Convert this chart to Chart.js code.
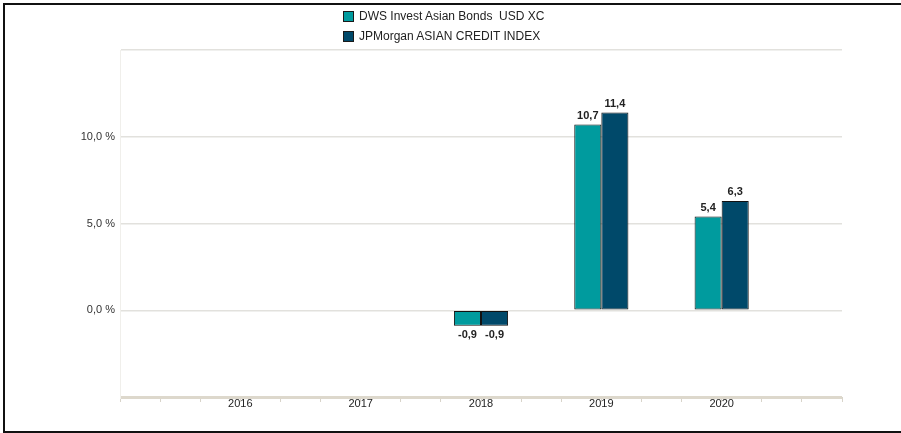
<!DOCTYPE html>
<html>
<head>
<meta charset="utf-8">
<script src="https://cdn.jsdelivr.net/npm/chart.js@4"></script>
<style>
  body { margin: 0; background: #fff; }
  #wrap { position: relative; width: 901px; height: 433px; overflow: hidden; }
  #frame { position: absolute; left: 3px; top: 3px; width: 910px; height: 430px; box-sizing: border-box;
           border-left: 2px solid #111; border-top: 2px solid #111; border-bottom: 2px solid #111; pointer-events: none; }
  #chart { position: absolute; left: 0; top: 0; }
  #legend { position: absolute; left: 343px; top: 6px; font-family: "Liberation Sans", Arial, sans-serif; font-size: 12px; color: #222; }
  .item { height: 20px; line-height: 14px; white-space: pre; display: flex; align-items: center; }
  .box { width: 9px; height: 9px; border: 1px solid #1a1a1a; margin-right: 5px; }
</style>
</head>
<body>
<div id="wrap">
  <canvas id="chart" width="901" height="433"></canvas>
  <div id="legend"></div>
  <div id="frame"></div>
</div>
<script>
// year slots, the outer two are empty padding slots
const years = ['', '2016', '2017', '2018', '2019', '2020', ''];
const seriesNames = ['DWS Invest Asian Bonds  USD XC', 'JPMorgan ASIAN CREDIT INDEX'];
const dwsValues = [null, null, null, -0.9, 10.7, 5.4, null];
const indexValues = [null, null, null, -0.9, 11.4, 6.3, null];
const seriesColors = ['#009b9e', '#00496a'];
const yTicks = [0, 5, 10];

function fmt(v, digits) {
    return v.toFixed(digits).replace('.', ',');
}

// legend as html so the two entries stack like the original
const legend = document.getElementById('legend');
seriesNames.forEach((name, i) => {
    const row = document.createElement('div');
    row.className = 'item';
    const box = document.createElement('span');
    box.className = 'box';
    box.style.background = seriesColors[i];
    row.appendChild(box);
    row.appendChild(document.createTextNode(name));
    legend.appendChild(row);
});

const valueLabels = {
    id: 'valueLabels',
    afterDatasetsDraw(chart) {
        const ctx = chart.ctx;
        ctx.save();
        ctx.font = 'bold 11px "Liberation Sans", Arial, sans-serif';
        ctx.fillStyle = '#222';
        ctx.textAlign = 'center';
        chart.data.datasets.forEach((ds, di) => {
            chart.getDatasetMeta(di).data.forEach((bar, i) => {
                const v = ds.data[i];
                if (v === null) return;
                if (v >= 0) {
                    ctx.textBaseline = 'bottom';
                    ctx.fillText(fmt(v, 1), bar.x, bar.y - 3);
                } else {
                    ctx.textBaseline = 'top';
                    ctx.fillText(fmt(v, 1), bar.x, bar.y + 4);
                }
            });
        });
        ctx.restore();
    }
};

new Chart(document.getElementById('chart').getContext('2d'), {
    type: 'bar',
    data: {
        labels: years,
        datasets: [{
            label: seriesNames[0],
            data: dwsValues,
            backgroundColor: seriesColors[0],
            borderColor: '#111',
            borderWidth: 1,
            borderSkipped: false
        }, {
            label: seriesNames[1],
            data: indexValues,
            backgroundColor: seriesColors[1],
            borderColor: '#111',
            borderWidth: 1,
            borderSkipped: false
        }]
    },
    options: {
        responsive: false,
        animation: false,
        categoryPercentage: 0.45,
        barPercentage: 1,
        layout: { padding: { top: 50, right: 59, left: 0, bottom: 0 } },
        plugins: {
            legend: { display: false },
            tooltip: { enabled: false }
        },
        scales: {
            x: {
                offset: false,
                weight: 1,
                grid: { display: false, offset: false },
                border: { display: false },
                ticks: {
                    autoSkip: false,
                    maxRotation: 0,
                    padding: -8,
                    color: '#222',
                    font: { family: '"Liberation Sans", Arial, sans-serif', size: 11 }
                },
                afterFit: s => { s.height = 36; }
            },
            xMinor: {
                type: 'linear',
                position: 'bottom',
                min: 0,
                max: 18,
                weight: 0,
                offset: false,
                ticks: { display: false, stepSize: 1 },
                grid: { drawOnChartArea: false, offset: false, tickLength: 5, color: '#d8d4ca', lineWidth: 1 },
                border: { display: false },
                afterFit: s => { s.height = 0; }
            },
            y: {
                min: -5,
                max: 15,
                ticks: {
                    stepSize: 5,
                    padding: 5,
                    color: '#333',
                    font: { family: '"Liberation Sans", Arial, sans-serif', size: 11 },
                    callback: v => yTicks.includes(v) ? fmt(v, 1) + ' %' : ''
                },
                grid: {
                    drawTicks: false,
                    color: c => c.tick && c.tick.value === -5 ? '#ddd8cc' : '#e2e1dd',
                    lineWidth: c => c.tick && c.tick.value === -5 ? 3 : 1.5
                },
                border: { display: true, color: '#f0efeb', width: 1 },
                afterFit: s => { s.width = 120; }
            }
        }
    },
    plugins: [valueLabels]
});
</script>
</body>
</html>
